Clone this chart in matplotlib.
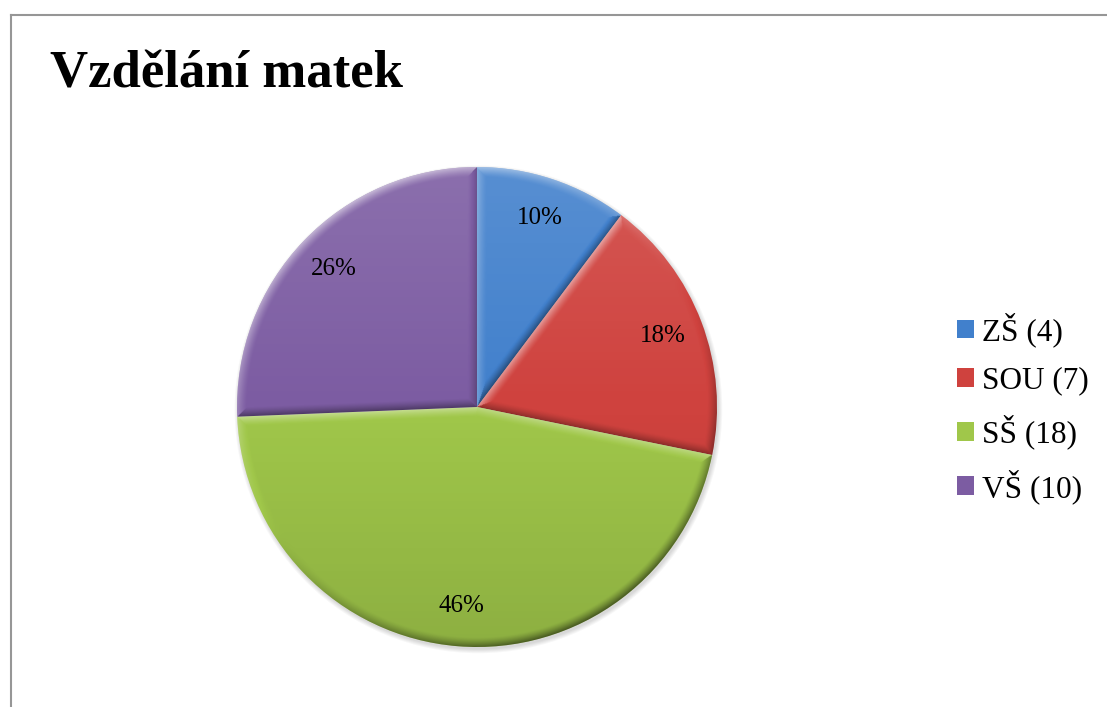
import numpy as np
import matplotlib
matplotlib.use("Agg")
import matplotlib.pyplot as plt
from matplotlib.lines import Line2D
from matplotlib.patches import Rectangle

plt.rcParams["font.family"] = ["Liberation Serif", "DejaVu Serif"]

# data
categories = ["ZŠ", "SOU", "SŠ", "VŠ"]
counts = [4, 7, 18, 10]
colors = ["#4180cc", "#cf423e", "#a0c74a", "#7c5ca2"]
legend_labels = [f"{c} ({n})" for c, n in zip(categories, counts)]

W, H = 1107, 707
fig = plt.figure(figsize=(W / 100, H / 100), dpi=100)

# pie axes: centre (477, 407) px, radius 240 px
cx, cy, R = 477, 407, 240
half = 250
ax = fig.add_axes([(cx - half) / W, (H - cy - half) / H, 2 * half / W, 2 * half / H])

# soft shadow under the pie
for k in range(5):
    ax.add_patch(plt.Circle((0.006, -0.010), 1.0 + 0.004 * k, color="black",
                            alpha=0.03, lw=0, zorder=0))

wedges, texts, autotexts = ax.pie(
    counts,
    colors=colors,
    startangle=90,
    counterclock=False,
    radius=1.0,
    autopct=lambda p: f"{p:.0f}%",
    pctdistance=0.83,
    wedgeprops=dict(linewidth=0),
    textprops=dict(fontsize=18, color="black"),
)
for t in autotexts:
    t.set_zorder(10)

lim = half / R
ax.set_aspect("equal")
ax.axis("off")

# bevel shading per slice
n = 700
xs = np.linspace(-1, 1, n)
X, Y = np.meshgrid(xs, xs)
Rr = np.hypot(X, Y) + 1e-9
light = np.array([-0.55, 0.83])
light /= np.linalg.norm(light)
bevel = 0.04
for w in wedges:
    a1, a2 = np.radians(w.theta1), np.radians(w.theta2)
    d_arc = 1 - Rr
    d1 = np.abs(X * np.sin(a1) - Y * np.cos(a1))
    d2 = np.abs(X * np.sin(a2) - Y * np.cos(a2))
    s_arc = (X / Rr) * light[0] + (Y / Rr) * light[1]
    s1 = np.sin(a1) * light[0] - np.cos(a1) * light[1]
    s2 = -np.sin(a2) * light[0] + np.cos(a2) * light[1]
    stack_d = np.stack([d_arc, d1, d2])
    stack_s = np.stack([s_arc, np.full_like(X, s1), np.full_like(X, s2)])
    idx = np.argmin(stack_d, axis=0)
    d = np.take_along_axis(stack_d, idx[None], 0)[0]
    s = np.take_along_axis(stack_s, idx[None], 0)[0]
    f = np.clip(1 - d / bevel, 0, 1) ** 1.3
    delta = 0.45 * s * f + 0.12 * Y
    rgba = np.zeros((n, n, 4))
    rgba[..., :3] = (delta > 0)[..., None].astype(float)
    rgba[..., 3] = np.clip(np.abs(delta), 0, 0.6)
    im = ax.imshow(rgba, extent=[-1, 1, -1, 1], origin="lower",
                   interpolation="bilinear", zorder=w.get_zorder() + 0.5)
    im.set_clip_path(w)

ax.set_xlim(-lim, lim)
ax.set_ylim(-lim, lim)

# title
fig.text(50 / W, 1 - 87 / H, "Vzdělání matek", fontsize=38, fontweight="bold",
         ha="left", va="baseline")

# legend
handles = [Rectangle((0, 0), 1, 1, facecolor=c, edgecolor="none") for c in colors]
fig.legend(handles, legend_labels, loc="center left",
           bbox_to_anchor=(957 / W, 1 - 408 / H), frameon=False,
           fontsize=22.5, handlelength=0.55, handleheight=0.55,
           handletextpad=0.25, labelspacing=0.62, borderpad=0,
           borderaxespad=0)

# outer chart border (top and left visible)
fig.add_artist(Line2D([10.5 / W, 1], [1 - 14.5 / H] * 2, transform=fig.transFigure,
                      color="#969696", lw=1.5))
fig.add_artist(Line2D([10.5 / W] * 2, [0, 1 - 14.5 / H], transform=fig.transFigure,
                      color="#969696", lw=1.5))

fig.savefig("out.png", dpi=100)
